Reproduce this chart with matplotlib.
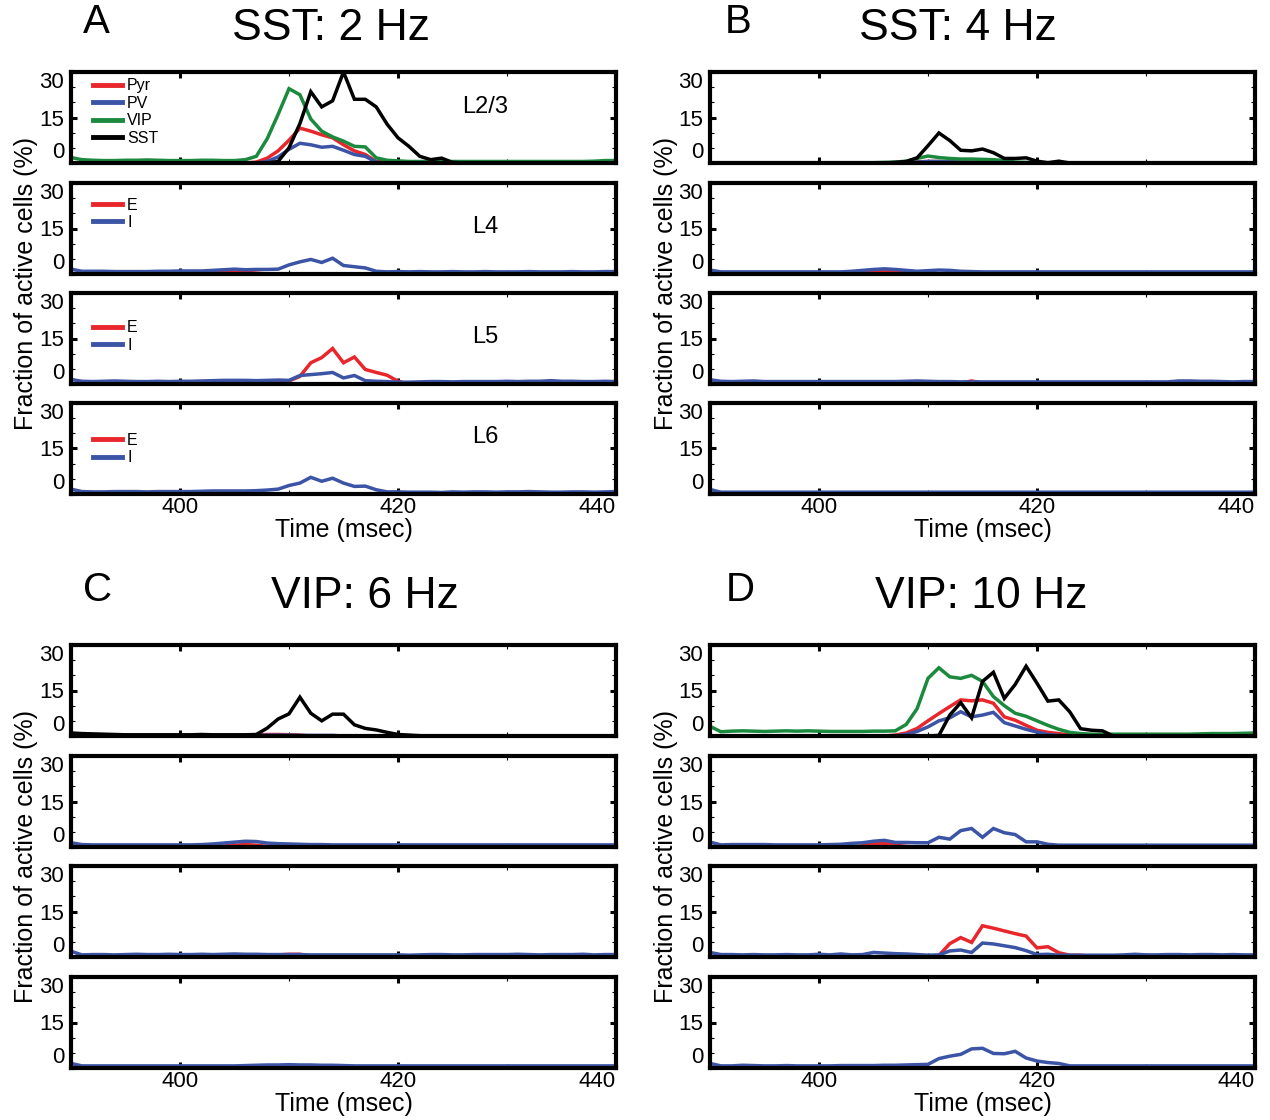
import numpy as np
import matplotlib
matplotlib.use("Agg")
import matplotlib.pyplot as plt

plt.rcParams['font.family'] = ['Liberation Sans', 'DejaVu Sans']

time_ms = np.arange(390, 441)

# ---------------- Panel A: SST 2 Hz ----------------
A_pyr = [0]*17 + [0.3, 1.6, 4, 7.5, 11.5, 10.5, 9.3, 8.3, 6, 4, 2.8, 0.5, 0.2] + [0]*21
A_pv = [0]*18 + [0.5, 2, 4.5, 6.5, 6, 5.2, 5.5, 4.2, 2.8, 2.2, 0.3] + [0]*22
A_vip = [1.8, 1.1, 0.9, 0.8, 0.8, 0.9, 0.9, 1.0, 0.9, 0.8, 0.8, 0.8, 0.9, 0.9, 0.8, 0.8,
         1.1, 2.2, 8, 16, 24.5, 22.5, 14.5, 10.5, 8.6, 7.2, 5.5, 5.3, 1.7, 0.9, 0.7] + [0.5]*17 + [0.6, 0.8, 0.8]
A_sst = [0]*19 + [0.5, 5, 13, 23.5, 18.5, 20.5, 30, 21, 21, 18.5, 12.8, 8.3, 5.5, 2.2, 1.1, 1.6, 0.2] + [0]*15
A4_E = [0]*13 + [0.3, 0.6, 0.8, 0.6, 0.3] + [0]*33
A4_I = [1.6, 0.9, 0.9, 0.9, 0.8, 0.8, 0.8, 0.8, 0.9, 0.9, 1.0, 1.0, 1.0, 1.2, 1.4, 1.6, 1.4,
        1.5, 1.5, 1.6, 3, 4, 4.8, 3.8, 5.2, 2.8, 2.4, 2, 0.9, 0.7, 0.8, 0.7, 0.8] + \
       [0.7, 0.7, 0.8, 0.7, 0.7, 0.8, 0.7, 0.7, 0.7, 0.8, 0.7, 0.7, 0.7, 0.8, 0.7, 0.7, 0.8, 0.8]
A5_E = [0]*17 + [0.3, 0.5, 0.6, 1, 2.5, 7, 8.7, 11.7, 7, 8.9, 4.8, 3.8, 2.9, 0.9, 0] + [0]*19
A5_I = [1.5, 0.9, 0.8, 0.9, 1.0, 0.9, 0.8, 0.8, 0.9, 0.8, 0.9, 0.9, 1.0, 1.1, 1.2, 1.2, 1.2,
        1.1, 1.2, 1.3, 1.2, 2.8, 3.1, 3.4, 3.8, 2.0, 2.8, 1.1, 0.9, 0.8, 0.6, 0.6, 0.7, 0.8,
        0.8, 0.7, 0.8, 0.8, 0.8, 0.8, 0.9, 0.8, 0.9, 0.9, 1.1, 0.9, 0.9, 0.8, 0.8, 0.9, 0.8]
A6_E = [0]*51
A6_I = [1.6, 0.8, 0.7, 0.7, 0.8, 0.8, 0.8, 0.7, 0.8, 0.8, 0.8, 0.8, 0.9, 1.0, 1.0, 1.0, 1.0,
        1.1, 1.3, 1.6, 2.8, 3.6, 5.5, 4.2, 5.2, 3.6, 2.5, 2.6, 1.4, 0.7, 0.7, 0.6, 0.6, 0.6,
        0.5, 0.7, 0.6, 0.7, 0.7, 0.6, 0.7, 0.7, 0.8, 0.7, 0.6, 0.6, 0.7, 0.7, 0.6, 0.7, 0.8]

# ---------------- Panel B: SST 4 Hz ----------------
B_pyr = [0]*18 + [0.2, 0.4, 0.5, 0.5, 0.4, 0.3, 0.3, 0.2, 0.1] + [0]*24
B_pv = [0]*19 + [0.3, 0.5, 0.5, 0.4, 0.3, 0.2] + [0]*26
B_vip = [0.1]*16 + [0.2, 0.3, 0.6, 1.5, 2.3, 1.8, 1.5, 1.3, 1.3, 1.2, 1.1, 0.8, 0.3, 0.2] + [0.1]*21
B_sst = [0]*17 + [0.2, 0.5, 1.7, 5.7, 9.9, 7.4, 4.2, 4, 4.6, 3.4, 1.5, 1.5, 1.7, 0.6, 0.1, 0.6, 0] + [0]*17
B4_E = [0]*14 + [0.3, 0.7, 0.9, 0.6, 0.3] + [0]*32
B4_I = [1.3, 0.7] + [0.7]*11 + [0.9, 1.2, 1.5, 1.7, 1.5, 1.2, 0.9, 1.1, 1.3, 1.2, 0.9, 0.8] + [0.7]*26
B5_E = [0]*23 + [0.3, 1.0, 0.3] + [0]*25
B5_I = [1.4, 0.9, 0.8, 0.9, 1.0, 0.8, 0.8] + [0.8]*11 + [0.9, 1.0, 0.9, 0.8, 0.8, 0.7, 0.7] + \
       [0.7]*18 + [1.0, 1.0, 0.9, 0.9, 0.8, 0.7, 0.8, 0.8]
B6_E = [0]*51
B6_I = [1.5] + [0.6]*50

# ---------------- Panel C: VIP 6 Hz ----------------
C_pyr = [0]*17 + [0.3, 0.5, 0.5, 0.4, 0.3] + [0]*29
C_pv = [0]*17 + [0.2, 0.3, 0.3, 0.3, 0.2, 0.2, 0.2, 0.2] + [0]*26
C_vip = [0]*51
C_sst = [1.0, 0.8, 0.7, 0.6, 0.5, 0.4, 0.4, 0.4, 0.4, 0.4, 0.4, 0.4, 0.5, 0.4, 0.4, 0.4, 0.4,
         0.5, 2.6, 5.6, 7.3, 12.8, 7.5, 5, 7.2, 7.2, 3.7, 2.5, 2, 1.2, 0.5, 0.3, 0.1] + [0]*18
C4_E = [0]*14 + [0.3, 0.6, 0.8, 0.6, 0.2] + [0]*32
C4_I = [1.4, 0.8] + [0.7]*10 + [0.8, 1.0, 1.3, 1.6, 1.9, 1.8, 1.3, 1.1, 1.0, 0.9, 0.8, 0.8, 0.7] + [0.7]*26
C5_E = [0]*18 + [0.3, 0.7, 0.9, 0.9, 0.3] + [0]*28
C5_I = [1.9, 0.7, 0.8, 0.8, 0.7, 0.8, 0.9, 0.8, 0.8, 0.9, 0.8, 0.8, 0.9, 0.8, 0.9, 1.0, 0.9,
        0.9, 0.8, 0.8, 0.8, 0.8, 0.7, 0.7, 0.7, 0.7, 0.7, 0.7, 0.7, 0.7, 0.7, 0.6, 0.7, 0.8,
        0.8, 0.7, 0.7, 0.8, 0.8, 0.8, 0.8, 0.9, 0.8, 0.7, 0.8, 0.8, 0.8, 0.9, 0.7, 0.8, 0.8]
C6_E = [0]*51
C6_I = [1.5, 0.7] + [0.7]*14 + [0.8, 0.9, 1.0, 1.0, 1.1, 1.0, 1.0, 0.9, 0.9, 0.8] + [0.7]*25

# ---------------- Panel D: VIP 10 Hz ----------------
D_pyr = [0]*17 + [0.3, 1, 2.5, 5, 7.4, 9.7, 11.9, 11.6, 11.9, 10.8, 6.3, 5.2, 3.5, 1.9, 1.2, 0.8, 0.3] + [0]*17
D_pv = [0]*18 + [0.5, 1.5, 3, 5, 6, 8, 6.3, 6.9, 7.8, 4.4, 3.3, 2.2, 1.3, 0.5, 0.2] + [0]*18
D_vip = [3.2, 1.4, 1.6, 1.7, 1.6, 1.5, 1.6, 1.7, 1.6, 1.7, 1.6, 1.5, 1.5, 1.5, 1.5, 1.6, 1.6, 1.7,
         3.8, 9, 19, 22.5, 19.5, 19, 20, 18, 13, 10, 7.5, 6.5, 5, 3.5, 2.2, 1.2, 0.8, 0.6] + \
        [0.6]*9 + [0.7, 0.8, 0.8, 0.8, 0.9, 1.0]
D_sst = [0]*21 + [0.2, 6.9, 11, 6, 18, 21, 12.4, 17, 23, 17.4, 11.5, 11.9, 8, 2.4, 1.9, 1.7, 0] + [0]*13
D4_E = [0]*14 + [0.4, 1.0, 1.2, 0.6, 0.2] + [0]*32
D4_I = [1.6, 0.7, 0.8, 0.8, 0.8, 0.8, 0.7, 0.7, 0.7, 0.7, 0.7, 0.8, 0.9, 1.2, 1.4, 1.9, 2.2,
        1.5, 1.5, 1.4, 1.4, 3.2, 2.6, 5.4, 6.1, 3.2, 6.1, 4.7, 4.1, 1.7, 1.7, 0.9, 0.6] + [0.6]*18
D5_E = [0]*21 + [0.5, 4.4, 6.4, 4.8, 10.3, 9.5, 8.6, 7.7, 6.9, 3, 3.4, 1.4, 0.6, 0.6, 0.1] + [0]*15
D5_I = [1.5, 0.8, 0.8, 0.7, 0.8, 0.7, 0.7, 0.8, 0.7, 0.7, 0.9, 0.7, 1.0, 0.7, 0.8, 1.5, 1.3,
        1.1, 1.0, 0.8, 0.6, 0.7, 2.0, 2.3, 1.5, 4.6, 4.3, 3.7, 3.1, 2.1, 0.8, 0.9, 0.6, 0.6, 0.6,
        0.6, 0.6, 0.6, 0.7, 0.9, 0.7, 0.7, 0.8, 0.8, 0.7, 0.8, 0.8, 0.7, 0.8, 0.7, 0.7]
D6_E = [0]*51
D6_I = [1.5, 0.7, 0.7, 0.9, 0.8, 0.7, 0.7, 0.8, 0.7, 0.7, 0.7, 0.7, 0.8, 0.8, 0.8, 0.8, 0.9,
        0.9, 1.0, 1.1, 1.2, 3.1, 3.9, 4.5, 6.3, 6.5, 4.8, 4.7, 5.5, 3.3, 2.3, 1.8, 1.5, 0.7] + [0.7]*17

panel_titles = ["SST: 2 Hz", "SST: 4 Hz", "VIP: 6 Hz", "VIP: 10 Hz"]
panel_letters = ["A", "B", "C", "D"]
layer_names = ["L2/3", "L4", "L5", "L6"]
l23_labels = ["Pyr", "PV", "VIP", "SST"]
ei_labels = ["E", "I"]
x_ticks = [400, 420, 440]
x_ticklabels = ["400", "420", "440"]
y_ticks = [0, 15, 30]
y_ticklabels = ["0", "15", "30"]

panels = [
    [[A_pyr, A_pv, A_vip, A_sst], [A4_E, A4_I], [A5_E, A5_I], [A6_E, A6_I]],
    [[B_pyr, B_pv, B_vip, B_sst], [B4_E, B4_I], [B5_E, B5_I], [B6_E, B6_I]],
    [[C_pyr, C_pv, C_vip, C_sst], [C4_E, C4_I], [C5_E, C5_I], [C6_E, C6_I]],
    [[D_pyr, D_pv, D_vip, D_sst], [D4_E, D4_I], [D5_E, D5_I], [D6_E, D6_I]],
]

RED = '#E8262B'
BLUE = '#3B54A5'
GREEN = '#1B8A3E'
BLACK = '#000000'
l23_colors = [RED, BLUE, GREEN, BLACK]
ei_colors = [RED, BLUE]

W, H = 1270, 1120
fig = plt.figure(figsize=(W / 100, H / 100), dpi=100)

def fx(px):
    return px / W

def fy(py):
    return 1 - py / H

panel_left = [71, 710, 71, 710]
panel_tops = [[72, 183, 293, 403], [72, 183, 293, 403],
              [645, 756, 866, 977], [645, 756, 866, 977]]
ax_w = 545
ax_h = 91

title_pos = [(331, 28), (958, 28), (365, 596), (981, 596)]
letter_pos = [(96, 22), (738, 22), (98, 590), (740, 590)]
ylabel_x = [26, 666, 26, 666]

legend_y = [0.93, 0.84, 0.70, 0.67]
layer_text_y = [0.62, 0.52, 0.52, 0.63]

for p in range(4):
    for r in range(4):
        top = panel_tops[p][r]
        ax = fig.add_axes([fx(panel_left[p]), fy(top + ax_h), fx(ax_w), ax_h / H])
        series = panels[p][r]
        if r == 0:
            labels, colors = l23_labels, l23_colors
        else:
            labels, colors = ei_labels, ei_colors
        for vals, lab, col in zip(series, labels, colors):
            ax.plot(time_ms, vals, color=col, lw=2.5, label=lab, solid_joinstyle='miter')
        ax.set_xlim(390, 440)
        ax.set_ylim(0, 30)
        ax.set_xticks(x_ticks)
        ax.set_xticks([410, 430], minor=True)
        ax.set_yticks(y_ticks)
        ax.set_yticks([5, 10, 20, 25], minor=True)
        ax.set_yticklabels(y_ticklabels, fontsize=16)
        yl = ax.get_yticklabels()
        yl[0].set_va('bottom')
        yl[-1].set_va('top')
        if r == 3:
            ax.set_xticklabels(x_ticklabels, fontsize=16)
            xl = ax.get_xticklabels()
            xl[-1].set_ha('right')
            ax.set_xlabel("Time (msec)", fontsize=18, labelpad=0)
        else:
            ax.set_xticklabels([])
        ax.tick_params(which='both', direction='in', top=True, right=True)
        ax.tick_params(axis='y', which='major', length=4, width=2.2, pad=5)
        ax.tick_params(axis='x', which='major', length=4, width=2.2, pad=2)
        ax.tick_params(which='minor', length=3, width=0.8)
        for s in ax.spines.values():
            s.set_linewidth(3)
        if p == 0:
            leg = ax.legend(loc='upper left', bbox_to_anchor=(0.04, legend_y[r]),
                            frameon=False, fontsize=11.5, handlelength=1.85,
                            handletextpad=0.3, labelspacing=0.15, borderpad=0,
                            borderaxespad=0)
            for ln in leg.get_lines():
                ln.set_linewidth(3.5)
            ax.text(0.76, layer_text_y[r], layer_names[r], transform=ax.transAxes,
                    fontsize=17, ha='center', va='center')
    fig.text(fx(title_pos[p][0]), fy(title_pos[p][1]), panel_titles[p],
             fontsize=32, ha='center', va='center')
    fig.text(fx(letter_pos[p][0]), fy(letter_pos[p][1]), panel_letters[p],
             fontsize=29, ha='center', va='center')
    ymid = (panel_tops[p][0] + panel_tops[p][3] + ax_h) / 2
    fig.text(fx(ylabel_x[p]), fy(ymid), "Fraction of active cells (%)",
             fontsize=18, rotation=90, ha='center', va='center')

fig.savefig("out.png", dpi=100, facecolor='white')
